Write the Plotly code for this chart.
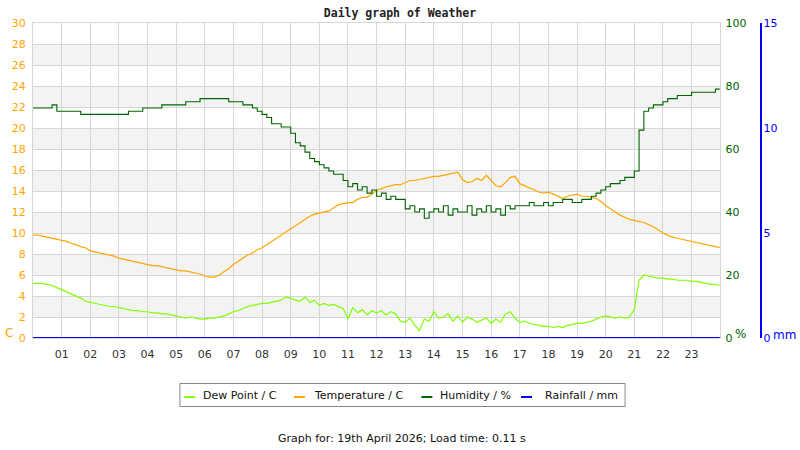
import pandas as pd
import plotly.graph_objects as go

# 10-minute readings, 00:00 .. 23:50, plus a final one at 23:59
times = list(pd.date_range("2026-04-19 00:00", periods=144, freq="10min")) + [pd.Timestamp("2026-04-19 23:59")]

temperature = [
    9.8, 9.8, 9.7, 9.6, 9.5, 9.4,
    9.3, 9.2, 9.0, 8.9, 8.7, 8.6,
    8.3, 8.2, 8.1, 8.0, 7.9, 7.8,
    7.6, 7.5, 7.4, 7.3, 7.2, 7.1,
    7.0, 6.9, 6.9, 6.8, 6.7, 6.6,
    6.5, 6.4, 6.4, 6.3, 6.2, 6.1,
    5.9, 5.8, 5.8, 6.0, 6.3, 6.6,
    7.0, 7.3, 7.6, 7.9, 8.1, 8.4,
    8.6, 8.9, 9.2, 9.5, 9.8, 10.1,
    10.4, 10.7, 11.0, 11.3, 11.6, 11.8,
    11.9, 12.0, 12.1, 12.4, 12.7, 12.8,
    12.9, 12.9, 13.2, 13.4, 13.4, 13.7,
    14.1, 14.2, 14.4, 14.5, 14.6, 14.6,
    14.8, 15.0, 15.0, 15.1, 15.2, 15.3,
    15.4, 15.4, 15.5, 15.6, 15.7, 15.8,
    15.1, 14.8, 14.9, 15.2, 15.0, 15.5,
    15.0, 14.5, 14.4, 14.8, 15.3, 15.4,
    14.7, 14.5, 14.3, 14.1, 13.9, 13.8,
    13.9, 13.7, 13.5, 13.3, 13.5, 13.6,
    13.7, 13.5, 13.5, 13.4, 13.3, 13.0,
    12.6, 12.3, 12.0, 11.7, 11.5, 11.3,
    11.2, 11.1, 11.0, 10.8, 10.6, 10.3,
    10.0, 9.8, 9.6, 9.5, 9.4, 9.3,
    9.2, 9.1, 9.0, 8.9, 8.8, 8.7,
    8.6,
]

dew_point = [
    5.2, 5.2, 5.2, 5.1, 5.0, 4.8,
    4.6, 4.4, 4.2, 4.0, 3.8, 3.5,
    3.4, 3.3, 3.2, 3.1, 3.0, 3.0,
    2.9, 2.8, 2.7, 2.6, 2.6, 2.5,
    2.5, 2.4, 2.4, 2.3, 2.3, 2.2,
    2.1, 2.0, 1.9, 2.0, 1.9, 1.8,
    1.8, 1.9, 1.9, 2.0, 2.1, 2.3,
    2.5, 2.6, 2.8, 3.0, 3.1, 3.2,
    3.3, 3.3, 3.4, 3.5, 3.6, 3.9,
    3.8, 3.6, 3.5, 3.9, 3.4, 3.6,
    3.1, 3.3, 3.1, 3.2, 3.0, 2.8,
    1.8, 2.9, 2.4, 2.7, 2.2, 2.6,
    2.4, 2.6, 2.2, 2.5, 2.3, 1.6,
    1.5, 1.9, 1.2, 0.7, 1.8, 1.6,
    2.5, 1.9, 2.0, 2.3, 1.6, 2.1,
    1.5, 2.0, 1.8, 1.5, 1.7, 1.9,
    1.4, 1.8, 1.5, 2.3, 2.5, 1.9,
    1.5, 1.6, 1.4, 1.3, 1.2, 1.1,
    1.1, 1.0, 1.1, 1.0, 1.2, 1.3,
    1.4, 1.4, 1.5, 1.6, 1.8, 2.0,
    2.1, 2.0, 1.9, 2.0, 1.9, 2.0,
    2.7, 5.5, 6.0, 5.9, 5.8, 5.7,
    5.7, 5.6, 5.6, 5.5, 5.5, 5.5,
    5.4, 5.4, 5.3, 5.2, 5.1, 5.1,
    5.0,
]

humidity = [
    73, 73, 73, 73, 74, 72,
    72, 72, 72, 72, 71, 71,
    71, 71, 71, 71, 71, 71,
    71, 71, 72, 72, 72, 73,
    73, 73, 73, 74, 74, 74,
    74, 74, 75, 75, 75, 76,
    76, 76, 76, 76, 76, 75,
    75, 75, 74, 74, 73, 72,
    71, 70, 68, 68, 67, 67,
    65, 62, 61, 59, 57, 56,
    55, 54, 53, 52, 52, 50,
    48, 49, 47, 48, 46, 47,
    45, 46, 44, 45, 44, 44,
    41, 42, 40, 41, 38, 40,
    41, 40, 42, 39, 41, 40,
    40, 42, 39, 41, 40, 42,
    40, 41, 39, 42, 41, 42,
    42, 42, 43, 42, 42, 43,
    42, 43, 43, 44, 44, 43,
    43, 44, 44, 45, 46, 47,
    48, 49, 49, 50, 51, 51,
    53, 66, 72, 73, 74, 74,
    75, 76, 76, 77, 77, 77,
    78, 78, 78, 78, 78, 79,
    79,
]

rainfall = [0.0] * len(times)

hour_ticks = [pd.Timestamp("2026-04-19") + pd.Timedelta(hours=h) for h in range(1, 24)]
hour_labels = ["%02d" % h for h in range(1, 24)]

ORANGE = "#ffa500"
GREEN = "#006400"
LIME = "#7fff00"
BLUE = "#0000ff"
GRID = "#d6d6d6"

W, H = 800, 450
L, R, T, B = 30, 30, 23, 112
PW, PH = W - L - R, H - T - B


def px_x(x):
    return (x - L) / PW


def px_y(y):
    return (H - B - y) / PH


fig = go.Figure()

series = [
    ("Dew Point / C", dew_point, LIME, "y", 1.2, "linear"),
    ("Temperature / C", temperature, ORANGE, "y", 1.2, "linear"),
    ("Humidity / %", humidity, GREEN, "y2", 1.1, "hv"),
    ("Rainfall / mm", rainfall, BLUE, "y3", 2, "linear"),
]
for name, vals, col, ax, lw, shape in series:
    fig.add_trace(go.Scatter(x=times, y=vals, name=name, mode="lines", yaxis=ax, showlegend=False,
                             line=dict(color=col, width=lw, shape=shape)))

# alternating grey bands behind the plot
for lo in range(2, 30, 4):
    fig.add_shape(type="rect", xref="x domain", yref="y", x0=0, x1=1, y0=lo, y1=lo + 2,
                  fillcolor="#f3f3f3", line_width=0, layer="below")

# hand-made legend box (short line keys like the original)
fig.add_shape(type="rect", xref="paper", yref="paper", x0=px_x(177.5), x1=px_x(624.5),
              y0=px_y(406.5), y1=px_y(383.5), line=dict(color="#888", width=1), fillcolor="white")
legend_pos = [(182, 199), (292, 310), (420, 437), (520, 542.5)]
for (name, vals, col, ax, lw, shape), (kx, tx) in zip(series, legend_pos):
    fig.add_shape(type="line", xref="paper", yref="paper", x0=px_x(kx), x1=px_x(kx + 11),
                  y0=px_y(397), y1=px_y(397), line=dict(color=col, width=2))
    fig.add_annotation(text=name, xref="paper", yref="paper", x=px_x(tx), y=px_y(395.5),
                       xanchor="left", yanchor="middle", showarrow=False,
                       font=dict(size=11, color="#111"))

fig.update_layout(
    width=W, height=H,
    margin=dict(l=L, r=R, t=T, b=B),
    paper_bgcolor="white", plot_bgcolor="white",
    font=dict(family="DejaVu Sans", size=11, color="#333"),
    title=dict(text="<b>Daily graph of Weather</b>", x=0.5, xanchor="center", y=1 - 13 / H, yanchor="middle",
               font=dict(family="DejaVu Sans Mono", size=11.5, color="#222")),
    showlegend=False,
    xaxis=dict(domain=[0, 690 / PW], range=[pd.Timestamp("2026-04-19 00:00"), pd.Timestamp("2026-04-20 00:00")],
               tickvals=hour_ticks, ticktext=hour_labels, showgrid=True, gridcolor=GRID, gridwidth=1,
               ticks="outside", ticklen=6, tickcolor="rgba(0,0,0,0)", tickfont=dict(size=11, color="#333"),
               showline=True, linecolor=GRID, mirror=True, zeroline=False, fixedrange=True),
    yaxis=dict(range=[0, 30], dtick=2, tickfont=dict(size=11, color=ORANGE), showgrid=True,
               gridcolor=GRID, zeroline=False, showline=True, linecolor=GRID, mirror=True,
               ticks="outside", ticklen=4, tickcolor="rgba(0,0,0,0)"),
    yaxis2=dict(range=[0, 100], tickvals=[0, 20, 40, 60, 80, 100], overlaying="y", side="right",
                anchor="x", tickfont=dict(size=11, color=GREEN), showgrid=False, zeroline=False,
                ticks="outside", ticklen=2, tickcolor="rgba(0,0,0,0)"),
    yaxis3=dict(range=[0, 15], tickvals=[0, 5, 10, 15], overlaying="y", side="right", anchor="free",
                position=px_x(760.5), tickfont=dict(size=11, color=BLUE), showgrid=False,
                zeroline=False, showline=True, linecolor=BLUE, linewidth=1.5, ticks=""),
)

fig.add_annotation(text="C", xref="paper", yref="paper", x=px_x(6), y=px_y(332.5), showarrow=False,
                   xanchor="center", yanchor="middle", font=dict(size=12, color=ORANGE))
fig.add_annotation(text="%", xref="paper", yref="paper", x=px_x(740), y=px_y(334), showarrow=False,
                   xanchor="center", yanchor="middle", font=dict(size=12, color=GREEN))
fig.add_annotation(text="mm", xref="paper", yref="paper", x=px_x(785), y=px_y(335), showarrow=False,
                   xanchor="center", yanchor="middle", font=dict(size=12, color=BLUE))
fig.add_annotation(text="Graph for: 19th April 2026; Load time: 0.11 s", xref="paper", yref="paper",
                   x=px_x(400), y=px_y(438), showarrow=False, xanchor="center",
                   yanchor="middle", font=dict(size=11, color="#111"))

# the page's default body margin would push the chart 8px right and down
fig.write_html("out.html", config={"displayModeBar": False},
               post_script="document.body.style.margin='0';")
